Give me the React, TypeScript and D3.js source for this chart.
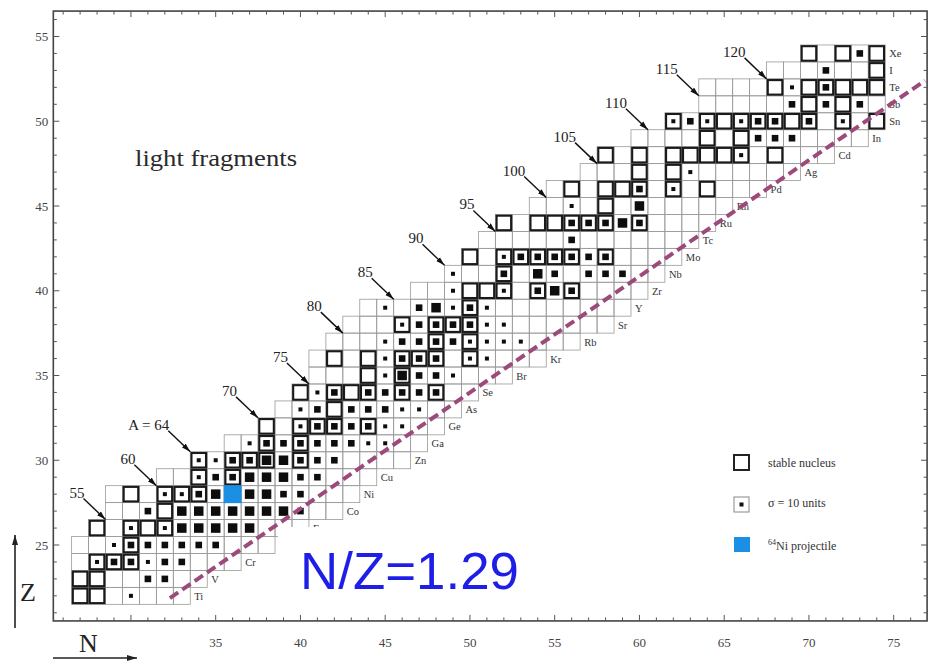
import React from 'react';
import * as d3 from 'd3';

// ---------- data ----------
const ELEMENTS = ['Ti','V','Cr','Mn','Fe','Co','Ni','Cu','Zn','Ga','Ge','As','Se','Br','Kr','Rb','Sr','Y','Zr','Nb','Mo','Tc','Ru','Rh','Pd','Ag','Cd','In','Sn','Sb','Te','I','Xe'];
const ROW_Z = [22,23,24,25,26,27,28,29,30,31,32,33,34,35,36,37,38,39,40,41,42,43,44,45,46,47,48,49,50,51,52,53,54];
const ROW_N_MIN = [27,27,27,27,28,29,29,32,34,36,38,39,40,41,41,42,43,44,47,49,50,51,52,54,55,57,58,60,62,64,64,68,70];
const ROW_N_MAX = [33,34,36,38,40,42,43,44,46,47,48,49,50,52,54,56,58,59,60,61,62,63,64,65,67,69,71,73,74,74,74,74,74];

const STABLE_N = [
  [24,25,26,27,28],[27,28],[26,28,29,30],[30],[28,30,31,32],[32],[30,32,33,34,36],[34,36],
  [34,36,37,38,40],[38,40],[38,40,41,42,44],[42],[40,42,43,44,46,48],[44,46],[42,44,46,47,48,50],
  [48,50],[46,48,49,50],[50],[50,51,52,54,56],[52],[50,52,53,54,55,56,58],[],[52,54,55,56,57,58,60],
  [58],[56,58,59,60,62,64],[60,62],[58,60,62,63,64,65,66,68],[64,66],[62,64,65,66,67,68,69,70,72,74],
  [70,72],[68,70,71,72,73,74,76,78],[74],[70,72,74,75,76,77,78,80,82]
];

// [N, size class] 1 = small, 2 = medium, 3 = large
const DOTS = [
  [[30,1]],
  [[31,2],[32,2]],
  [[28,1],[29,2],[30,2],[31,1],[32,2],[33,2]],
  [[29,1],[30,2],[31,2],[32,2],[33,2],[34,2],[35,2]],
  [[30,1],[32,1],[33,3],[34,3],[35,3],[36,3],[37,3]],
  [[31,2],[33,3],[34,3],[35,3],[36,3],[37,3],[38,3],[39,3],[40,2]],
  [[32,1],[33,1],[34,2],[35,3],[37,3],[38,3],[39,2],[40,2]],
  [[34,1],[35,2],[36,2],[37,3],[38,3],[39,3],[40,2],[41,2]],
  [[34,1],[35,1],[36,2],[37,2],[38,3],[39,3],[40,2],[41,2],[42,2]],
  [[37,1],[38,2],[39,2],[40,2],[41,2],[42,2],[43,2],[44,1],[45,1]],
  [[40,1],[41,2],[42,2],[43,2],[44,2],[45,1],[46,1]],
  [[40,1],[41,2],[43,2],[44,2],[45,2],[46,1],[47,1]],
  [[41,1],[42,2],[44,2],[45,2],[46,2],[47,2],[48,2]],
  [[45,1],[46,3],[47,2],[48,2],[49,1]],
  [[45,1],[46,2],[47,2],[48,2],[50,1],[51,1]],
  [[45,1],[46,2],[47,2],[48,2],[49,2],[50,1],[51,1],[52,1],[53,1]],
  [[46,1],[47,2],[48,2],[49,2],[50,2],[51,1],[52,1]],
  [[45,1],[47,2],[48,3],[49,1],[50,2],[51,1]],
  [[49,1],[52,1],[54,2],[55,3],[56,2]],
  [[49,1],[52,2],[54,3],[55,2],[57,2],[58,2],[59,2]],
  [[52,1],[53,2],[54,2],[55,2],[56,2],[57,2],[58,2]],
  [[56,2]],
  [[56,2],[57,2],[58,2],[59,3],[60,2]],
  [[56,1],[60,3]],
  [[60,2],[62,1]],
  [[63,1]],
  [[66,1]],
  [[67,2],[68,2],[69,2]],
  [[62,1],[63,2],[64,1],[66,1],[67,2],[68,2],[70,2],[72,1]],
  [[69,2],[71,2],[73,2]],
  [[69,1],[71,2]],
  [[71,2]],
  [[73,2]]
];

const PROJECTILE = { N: 36, Z: 28 };

const ARROW_A = [55,60,64,70,75,80,85,90,95,100,105,110,115,120];
const ARROW_Z = [26,28,30,32,34,37,39,41,43,45,47,49,51,52];
const ARROW_LABELS = ['55','60','A = 64','70','75','80','85','90','95','100','105','110','115','120'];

const NZ_LINE_N = [32.3, 76.85];
const NZ_LINE_Z = [21.87, 52.4];

const X_TICKS_MAJOR = [35,40,45,50,55,60,65,70,75];
const Y_TICKS_MAJOR = [25,30,35,40,45,50,55];

const LEGEND_LABELS = ['stable nucleus', 'σ  = 10 units', 'Ni projectile'];

export default function App() {
  const x = d3.scaleLinear().domain([35, 75]).range([215.7, 893.7]);
  const y = d3.scaleLinear().domain([25, 55]).range([545, 36.5]);
  const u = x(36) - x(35);
  const fx0 = x(25.42), fx1 = x(76.97), fy0 = y(56.5), fy1 = y(20.52);
  const dotSize = [0, 4, 6.6, 9.5];
  const serif = '"Liberation Serif", "DejaVu Serif", serif';

  const cells: JSX.Element[] = [];
  const stables: JSX.Element[] = [];
  const dots: JSX.Element[] = [];
  const labels: JSX.Element[] = [];

  ROW_Z.forEach((Z, i) => {
    const yc = y(Z);
    for (let N = ROW_N_MIN[i]; N <= ROW_N_MAX[i]; N++) {
      cells.push(<rect key={`c${Z}-${N}`} x={x(N) - u / 2} y={yc - u / 2} width={u} height={u}
        fill="none" stroke="#9a9a9a" strokeWidth={0.8} />);
    }
    STABLE_N[i].filter(N => N >= ROW_N_MIN[i] && N <= ROW_N_MAX[i]).forEach(N => {
      stables.push(<rect key={`s${Z}-${N}`} x={x(N) - u / 2 + 1.2} y={yc - u / 2 + 1.2} width={u - 2.4} height={u - 2.4}
        fill="none" stroke="#1a1a1a" strokeWidth={2.1} />);
    });
    DOTS[i].forEach(([N, s]) => {
      const d = dotSize[s];
      dots.push(<rect key={`d${Z}-${N}`} x={x(N) - d / 2} y={yc - d / 2} width={d} height={d} fill="#0d0d0d" />);
    });
    labels.push(<text key={`l${Z}`} x={x(ROW_N_MAX[i]) + u / 2 + 4} y={yc + 4} fontSize={10.5}
      fontFamily={serif} fill="#333">{ELEMENTS[i]}</text>);
  });

  const ticks: JSX.Element[] = [];
  for (let N = 26; N <= 76; N++) {
    const len = N % 5 === 0 ? 6 : 3.5;
    ticks.push(<line key={`tb${N}`} x1={x(N)} x2={x(N)} y1={fy1} y2={fy1 - len} stroke="#555" strokeWidth={1} />);
    ticks.push(<line key={`tt${N}`} x1={x(N)} x2={x(N)} y1={fy0} y2={fy0 + len} stroke="#555" strokeWidth={1} />);
  }
  for (let Z = 21; Z <= 56; Z++) {
    const len = Z % 5 === 0 ? 6 : 3.5;
    ticks.push(<line key={`tl${Z}`} x1={fx0} x2={fx0 + len} y1={y(Z)} y2={y(Z)} stroke="#555" strokeWidth={1} />);
    ticks.push(<line key={`tr${Z}`} x1={fx1} x2={fx1 - len} y1={y(Z)} y2={y(Z)} stroke="#555" strokeWidth={1} />);
  }

  const lineGen = d3.line<number>().x((_, k) => x(NZ_LINE_N[k])).y((_, k) => y(NZ_LINE_Z[k]));

  return (
    <svg width={930} height={664} style={{ position: 'absolute', left: 0, top: 0, background: '#fff' }}>
      <defs>
        <marker id="ah" viewBox="0 0 10 6" refX={10} refY={3} markerWidth={9} markerHeight={6}
          markerUnits="userSpaceOnUse" orient="auto">
          <path d="M0,0 L10,3 L0,6 Z" fill="#111" />
        </marker>
        <marker id="ah2" viewBox="0 0 10 6" refX={10} refY={3} markerWidth={10} markerHeight={7}
          markerUnits="userSpaceOnUse" orient="auto">
          <path d="M0,0 L10,3 L0,6 Z" fill="#222" />
        </marker>
      </defs>
      <rect x={0} y={0} width={930} height={664} fill="#fff" />
      {cells}
      {stables}
      {dots}
      <rect x={x(PROJECTILE.N) - u / 2 - 0.5} y={y(PROJECTILE.Z) - u / 2 - 0.5} width={u + 1} height={u + 1} fill="#1a8fe3" />
      {labels}
      {ARROW_A.map((A, k) => {
        const Z = ARROW_Z[k];
        const tx = x(A - Z - 0.5), ty = y(Z + 0.5);
        return (
          <g key={`a${A}`}>
            <line x1={tx - 22} y1={ty - 21} x2={tx} y2={ty} stroke="#111" strokeWidth={1.4} markerEnd="url(#ah)" />
            <text x={tx - 21} y={ty - 22} textAnchor="end" fontSize={15} fontFamily={serif} fill="#222">{ARROW_LABELS[k]}</text>
          </g>
        );
      })}
      <path d={lineGen([0, 1]) || ''} fill="none" stroke="#9c4a7c" strokeWidth={4} strokeDasharray="10,5" />
      <rect x={278} y={527} width={262} height={85} fill="#fff" />
      <text x={300} y={589} fontSize={52} fontFamily='"Liberation Sans", Arial, sans-serif' fill="#1e1ee6"
        textLength={219} lengthAdjust="spacingAndGlyphs">N/Z=1.29</text>
      {/* frame */}
      <rect x={fx0} y={fy0} width={fx1 - fx0} height={fy1 - fy0} fill="none" stroke="#444" strokeWidth={1.6} />
      {ticks}
      {X_TICKS_MAJOR.map(N => (
        <text key={`xl${N}`} x={x(N)} y={647} textAnchor="middle" fontSize={13} fontFamily={serif} fill="#444">{N}</text>
      ))}
      {Y_TICKS_MAJOR.map(Z => (
        <text key={`yl${Z}`} x={fx0 - 5} y={y(Z) + 4.5} textAnchor="end" fontSize={13} fontFamily={serif} fill="#444">{Z}</text>
      ))}
      <text x={135} y={166} fontSize={23} fontFamily={serif} fill="#2a2a2a" textLength={162} lengthAdjust="spacingAndGlyphs">light fragments</text>
      {/* axis names */}
      <line x1={15} y1={628} x2={15} y2={535} stroke="#222" strokeWidth={1.6} markerEnd="url(#ah2)" />
      <text x={20} y={601} fontSize={26} fontFamily={serif} fill="#222">Z</text>
      <line x1={53} y1={658} x2={137} y2={658} stroke="#222" strokeWidth={1.6} markerEnd="url(#ah2)" />
      <text x={79} y={652} fontSize={26} fontFamily={serif} fill="#222">N</text>
      {/* legend */}
      <rect x={734} y={455} width={15} height={15} fill="none" stroke="#222" strokeWidth={2} />
      <rect x={734} y={497} width={15} height={15} fill="none" stroke="#888" strokeWidth={1} />
      <rect x={739.5} y={502.5} width={4} height={4} fill="#111" />
      <rect x={734} y={537} width={16} height={15} fill="#1a8fe3" />
      <text x={768} y={467} fontSize={12} fontFamily={serif} fill="#333">{LEGEND_LABELS[0]}</text>
      <text x={768} y={507} fontSize={12} fontFamily={serif} fill="#333">{LEGEND_LABELS[1]}</text>
      <text x={768} y={550} fontSize={12} fontFamily={serif} fill="#333">
        <tspan fontSize={8} dy={-5}>64</tspan><tspan dy={5}>{LEGEND_LABELS[2]}</tspan>
      </text>
    </svg>
  );
}
